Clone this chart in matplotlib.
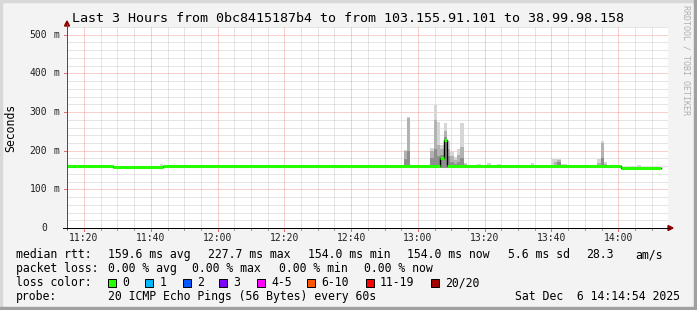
import matplotlib
matplotlib.use("Agg")
import matplotlib.pyplot as plt
from matplotlib.patches import Rectangle, Polygon
from matplotlib.lines import Line2D
from matplotlib.transforms import blended_transform_factory
import numpy as np

W, H = 697, 310
MONO = "DejaVu Sans Mono"


def minutes(s):
    p = [int(v) for v in s.split(":")]
    while len(p) < 3:
        p.append(0)
    return p[0] * 60 + p[1] + p[2] / 60.0


# time window of the graph
t_from = "11:14:54"
t_to = "14:14:54"

# median rtt in ms, as steps (start of each run)
med_time = ["11:14", "11:28", "11:43", "13:06", "13:07", "13:08", "14:00"]
med_rtt = [161.0, 157.0, 159.5, 180.0, 227.7, 159.5, 154.0]
med_last = "14:12"

# smoke (ping spread) per minute, ms
smoke_time = ["11:42", "12:55", "12:56", "13:03", "13:04", "13:05", "13:06", "13:07",
              "13:08", "13:09", "13:10", "13:11", "13:12", "13:13", "13:17", "13:20",
              "13:23", "13:28", "13:33", "13:35", "13:39", "13:40", "13:41", "13:42",
              "13:43", "13:53", "13:54", "13:55", "13:56", "13:57", "14:03", "14:05"]
smoke_max = [165, 202, 288, 206, 318, 275, 215, 272, 225, 197, 184, 205, 271, 168, 166, 168,
             166, 164, 169, 162, 179, 179, 179, 166, 166, 179, 225, 170, 164, 164, 161, 164]
smoke_upper = [0, 200, 285, 200, 280, 215, 205, 252, 205, 185, 175, 190, 210, 165, 0, 0,
               0, 0, 0, 0, 0, 172, 175, 0, 0, 168, 220, 166, 0, 0, 0, 0]
smoke_core = [0, 178, 200, 180, 205, 185, 190, 236, 185, 170, 165, 170, 180, 0, 0, 0,
              0, 0, 0, 0, 0, 0, 171, 0, 0, 0, 180, 0, 0, 0, 0, 0]

# stats for the legend
rtt_stats = [159.6, 227.7, 154.0, 154.0]   # avg max min now
rtt_sd = 5.6
rtt_ams = 28.3
loss_stats = [0.00, 0.00, 0.00, 0.00]
loss_labels = ["0", "1", "2", "3", "4-5", "6-10", "11-19", "20/20"]
loss_colors = ["#26ff00", "#00b8ff", "#0059ff", "#7e00ff", "#ff00ff", "#ff5500", "#ff0000", "#a10000"]
probe_text = "20 ICMP Echo Pings (56 Bytes) every 60s"
stamp = "Sat Dec  6 14:14:54 2025"
title = "Last 3 Hours from 0bc8415187b4 to from 103.155.91.101 to 38.99.98.158"

STEP_SHIFT = 0.75  # rrd rows sit a bit after the whole minute


def fx(x):
    return x / W


def fy(y):
    return 1 - y / H


fig = plt.figure(figsize=(W / 100, H / 100), dpi=100, facecolor="#f3f3f3")

# bevel frame
fig.patches.append(Rectangle((0, 0), fx(2), 1, transform=fig.transFigure, color="#d8d8d8", zorder=0))
fig.patches.append(Rectangle((0, fy(2)), 1, 2 / H, transform=fig.transFigure, color="#d8d8d8", zorder=0))
fig.patches.append(Rectangle((fx(694), 0), 3 / W, 1, transform=fig.transFigure, color="#a0a0a0", zorder=0))
fig.patches.append(Rectangle((0, 0), 1, 3 / H, transform=fig.transFigure, color="#a0a0a0", zorder=0))

ax = fig.add_axes([fx(67), fy(228), 601 / W, 201 / H])
ax.set_facecolor("white")
x0, x1 = minutes(t_from), minutes(t_to)
ax.set_xlim(x0, x1)
ax.set_ylim(0, 520)
for s in ax.spines.values():
    s.set_visible(False)

# grid, rrdtool style dots
for m in np.arange(675, x1, 5):
    major = (m % 20) == 0
    ax.axvline(m, color="#eea0a0" if major else "#cccccc", lw=0.72,
               ls=(0, (1, 1)), zorder=1 if major else 0.5)
for v in range(20, 521, 20):
    major = (v % 100) == 0
    ax.axhline(v, color="#eea0a0" if major else "#cccccc", lw=0.72,
               ls=(0, (1, 1)), zorder=1 if major else 0.5)

# smoke
st = np.array([minutes(t) for t in smoke_time]) + STEP_SHIFT
base = rtt_stats[2]
for vals, col in [(smoke_max, "#d6d6d6"), (smoke_upper, "#b2b2b2"), (smoke_core, "#8e8e8e")]:
    vals = np.array(vals, dtype=float)
    keep = vals > base
    ax.bar(st[keep], vals[keep] - base, bottom=base, width=1.0, align="edge",
           color=col, linewidth=0, antialiased=False, zorder=2)

# median line
mt = np.array([minutes(t) for t in med_time]) + STEP_SHIFT
mend = np.append(mt[1:], minutes(med_last) + STEP_SHIFT)
ax.step(np.append(mt, mend[-1]), np.append(med_rtt, med_rtt[-1]), where="post",
        color="black", lw=1.0, zorder=3)
ax.hlines(med_rtt, mt, mend, color=loss_colors[0], lw=2.2, zorder=4, capstyle="butt")

ax.set_xticks([])
ax.set_yticks([])

# axes lines, ticks and arrows
fig.add_artist(Line2D([fx(67), fx(67)], [fy(229), fy(24)], color="#505050", lw=0.72))
fig.add_artist(Line2D([fx(63), fx(669)], [fy(228), fy(228)], color="black", lw=0.72))
fig.patches.append(Polygon([(fx(64.5), fy(26)), (fx(69.5), fy(26)), (fx(67), fy(21))],
                           closed=True, transform=fig.transFigure, color="#8b0000"))
fig.patches.append(Polygon([(fx(668), fy(225.5)), (fx(668), fy(230.5)), (fx(673), fy(228))],
                           closed=True, transform=fig.transFigure, color="#8b0000"))

tx = blended_transform_factory(ax.transData, fig.transFigure)
ty = blended_transform_factory(fig.transFigure, ax.transData)
for m in np.arange(675, x1, 5):
    major = (m % 20) == 0
    ax.plot([m, m], [fy(228), fy(231 if major else 230)], transform=tx, clip_on=False,
            color="#e07070" if major else "#a0a0a0", lw=0.72)
    if major:
        ax.text(m, fy(238), "%d:%02d" % (m // 60, m % 60), transform=tx, ha="center",
                va="center", family=MONO, fontsize=7, color="#202020")
for v in range(0, 501, 100):
    ax.plot([fx(64), fx(67)], [v, v], transform=ty, clip_on=False, color="#e07070", lw=0.72)
    ax.text(fx(47), v, "%d" % v, transform=ty, ha="right", va="center",
            family=MONO, fontsize=7, color="#202020")
    if v > 0:
        ax.text(fx(53.5), v, "m", transform=ty, ha="left", va="center",
                family=MONO, fontsize=7, color="#202020")

# titles
fig.text(fx(348.5), fy(19), title, ha="center", va="center", family=MONO, fontsize=9.6, color="black")
fig.text(fx(11), fy(127.5), "Seconds", rotation=90, ha="center", va="center", family=MONO,
         fontsize=8.3, color="black")
fig.text(fx(686), fy(60), "RRDTOOL / TOBI OETIKER", rotation=-90, ha="center", va="center",
         family=MONO, fontsize=6, color="#b0b0b0")

# legend
row1 = ["median rtt:",
        "%.1f ms avg" % rtt_stats[0], "%.1f ms max" % rtt_stats[1],
        "%.1f ms min" % rtt_stats[2], "%.1f ms now" % rtt_stats[3],
        "%.1f ms sd" % rtt_sd, "%.1f" % rtt_ams, "am/s"]
row1_x = [16, 108, 207.5, 307.5, 407.5, 508, 586, 635]
for s, x in zip(row1, row1_x):
    fig.text(fx(x), fy(254.5), s, ha="left", va="center", family=MONO, fontsize=8.3)

row2 = ["packet loss:"] + ["%.2f %% %s" % (v, n) for v, n in zip(loss_stats, ["avg", "max", "min", "now"])]
row2_x = [16, 108, 192.4, 279, 364.4]
for s, x in zip(row2, row2_x):
    fig.text(fx(x), fy(268.5), s, ha="left", va="center", family=MONO, fontsize=8.3)

fig.text(fx(16), fy(282.5), "loss color:", ha="left", va="center", family=MONO, fontsize=8.3)
box_x = [108.3, 145, 182.7, 219.3, 256.7, 307.3, 365.7, 431]
for lab, col, x in zip(loss_labels, loss_colors, box_x):
    fig.patches.append(Rectangle((fx(x), fy(286.5)), 8 / W, 8 / H, transform=fig.transFigure,
                                 facecolor=col, edgecolor="black", lw=0.7))
    fig.text(fx(x + 14.3), fy(282.5), lab, ha="left", va="center", family=MONO, fontsize=8.3)

fig.text(fx(16), fy(296.5), "probe:", ha="left", va="center", family=MONO, fontsize=8.3)
fig.text(fx(108), fy(296.5), probe_text, ha="left", va="center", family=MONO, fontsize=8.3)
fig.text(fx(680), fy(296.5), stamp, ha="right", va="center", family=MONO, fontsize=8.3)

fig.savefig("out.png", dpi=100, facecolor=fig.get_facecolor())
